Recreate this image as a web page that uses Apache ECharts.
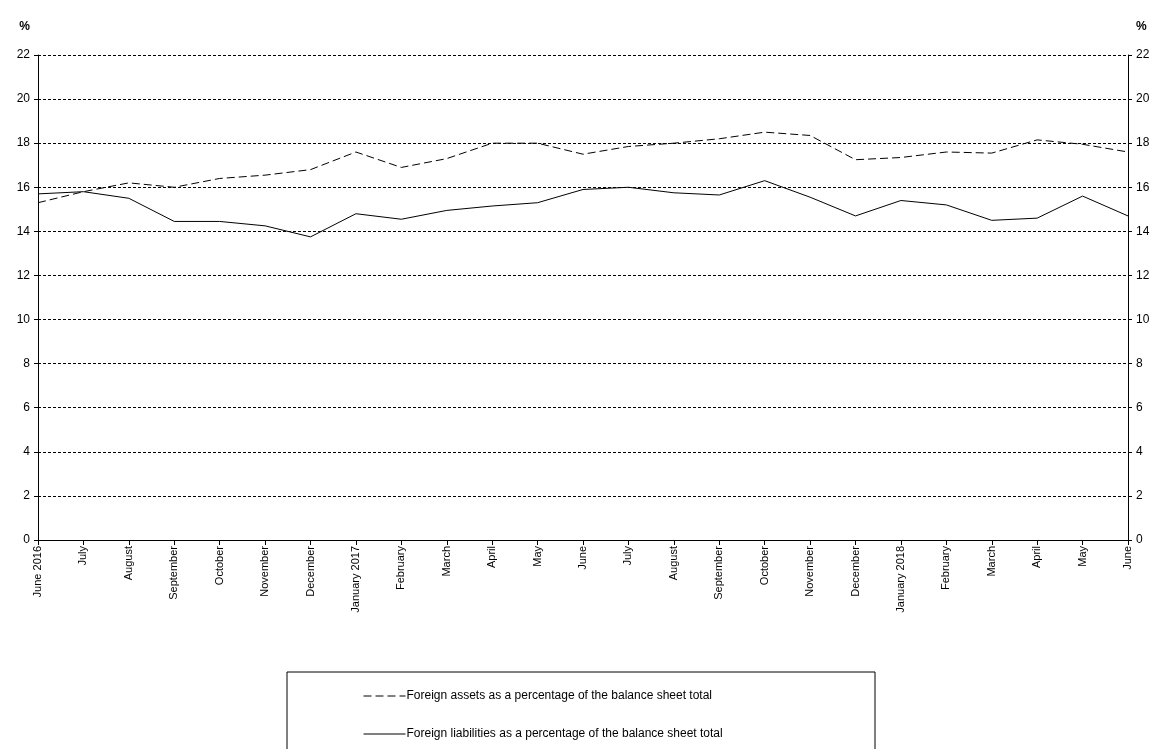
<!DOCTYPE html>
<html>
<head>
<meta charset="utf-8">
<script src="https://cdn.jsdelivr.net/npm/echarts@6/dist/echarts.min.js"></script>
<style>html,body{margin:0;padding:0;background:#fff}#chart{width:1169px;height:749px}</style>
</head>
<body>
<div id="chart"></div>
<script>
const months = ['June 2016', 'July', 'August', 'September', 'October', 'November', 'December',
    'January 2017', 'February', 'March', 'April', 'May', 'June', 'July', 'August', 'September',
    'October', 'November', 'December', 'January 2018', 'February', 'March', 'April', 'May', 'June'];
const foreignAssets = [15.3, 15.8, 16.2, 16.0, 16.4, 16.55, 16.8, 17.6, 16.9, 17.3, 18.0, 18.0, 17.5,
    17.85, 18.0, 18.2, 18.5, 18.35, 17.25, 17.35, 17.6, 17.55, 18.15, 17.95, 17.6];
const foreignLiabilities = [15.7, 15.8, 15.5, 14.45, 14.45, 14.25, 13.75, 14.8, 14.55, 14.95, 15.15, 15.3,
    15.9, 16.0, 15.75, 15.65, 16.3, 15.55, 14.7, 15.4, 15.2, 14.5, 14.6, 15.6, 14.7];
const seriesNames = ['Foreign assets as a percentage of the balance sheet total',
    'Foreign liabilities as a percentage of the balance sheet total'];

const font = 'Liberation Sans';
const chart = echarts.init(document.getElementById('chart'));

function yAxisConf(pos) {
    return {
        type: 'value', position: pos, min: 0, max: 22, interval: 2,
        name: '%', nameGap: 14, nameLocation: 'end',
        nameTextStyle: { color: '#000', fontFamily: font, fontWeight: 'bold', fontSize: 12,
            align: pos === 'left' ? 'right' : 'left', padding: pos === 'left' ? [0, 8, 8, 0] : [0, 0, 8, 8] },
        axisLine: { show: true, lineStyle: { color: '#000', width: 1 } },
        axisTick: { show: true, length: 4, lineStyle: { color: '#000' } },
        axisLabel: { color: '#000', fontFamily: font, fontSize: 12, margin: 8 },
        splitLine: { show: pos === 'left', lineStyle: { color: '#000', type: [3, 2], width: 1 } }
    };
}

const option = {
    animation: false,
    grid: { left: 38, right: 41, top: 55, bottom: 209 },
    xAxis: {
        type: 'category', data: months, boundaryGap: false,
        axisLine: { lineStyle: { color: '#000' } },
        axisTick: { show: true, alignWithLabel: true, lineStyle: { color: '#000' } },
        axisLabel: { rotate: 90, interval: 0, color: '#000', fontFamily: font, fontSize: 11, margin: 6 }
    },
    yAxis: [yAxisConf('left'), yAxisConf('right')],
    legend: {
        orient: 'vertical', left: 358, top: 685, itemGap: 26, itemWidth: 42, itemHeight: 10,
        data: seriesNames,
        itemStyle: { opacity: 0 },
        lineStyle: { width: 1 },
        textStyle: { color: '#000', fontFamily: font, fontSize: 12, padding: [0, 0, 0, -4] }
    },
    graphic: [{
        type: 'rect', shape: { x: 287, y: 672, width: 588, height: 90 },
        style: { fill: 'none', stroke: '#000', lineWidth: 1 }, silent: true
    }],
    series: [
        {
            name: seriesNames[0], type: 'line', data: foreignAssets, showSymbol: false, symbol: 'none',
            lineStyle: { color: '#000', width: 1, type: [8, 4] }, itemStyle: { color: '#000' }
        },
        {
            name: seriesNames[1], type: 'line', data: foreignLiabilities, showSymbol: false, symbol: 'none',
            lineStyle: { color: '#000', width: 1 }, itemStyle: { color: '#000' }
        }
    ]
};
chart.setOption(option);
</script>
</body>
</html>
